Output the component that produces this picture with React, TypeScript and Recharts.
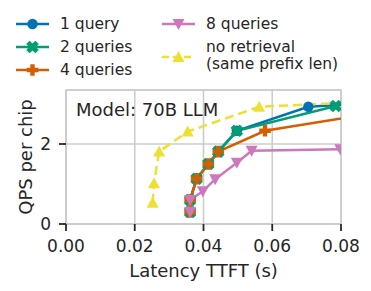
import React from "react";
import { LineChart, Line, XAxis, YAxis, CartesianGrid, ReferenceArea, Label } from "recharts";

// latency TTFT (s) / QPS per chip
const xTicks = [0, 0.02, 0.04, 0.06, 0.08];
const yTicks = [0, 2];

const q1Lat = [0.0361, 0.0361, 0.038, 0.0414, 0.0443, 0.0497, 0.0705, 0.09];
const q1Qps = [0.3, 0.6, 1.13, 1.5, 1.81, 2.33, 2.93, 3.04];
const q2Lat = [0.0361, 0.0361, 0.038, 0.0414, 0.0443, 0.0497, 0.0785];
const q2Qps = [0.3, 0.6, 1.13, 1.5, 1.81, 2.33, 2.95];
const q4Lat = [0.0361, 0.0361, 0.038, 0.0414, 0.0443, 0.0579, 0.09];
const q4Qps = [0.3, 0.6, 1.13, 1.5, 1.81, 2.33, 2.78];
const q8Lat = [0.0361, 0.0361, 0.0398, 0.0434, 0.0497, 0.054, 0.0798];
const q8Qps = [0.3, 0.6, 0.82, 1.12, 1.53, 1.83, 1.87];
const noRetLat = [0.0252, 0.0256, 0.0271, 0.0354, 0.0562, 0.09];
const noRetQps = [0.53, 1.02, 1.81, 2.31, 2.93, 3.07];

const TEXT = "#262626";
const GRID = "#cccccc";
const FONT = "DejaVu Sans, sans-serif";

type Shape = "circle" | "x" | "plus" | "down" | "up";

const series: { name: string; lat: number[]; qps: number[]; color: string; shape: Shape; dash?: string }[] = [
  { name: "1 query", lat: q1Lat, qps: q1Qps, color: "#0173b2", shape: "circle" },
  { name: "2 queries", lat: q2Lat, qps: q2Qps, color: "#029e73", shape: "x" },
  { name: "4 queries", lat: q4Lat, qps: q4Qps, color: "#d55e00", shape: "plus" },
  { name: "8 queries", lat: q8Lat, qps: q8Qps, color: "#cc78bc", shape: "down" },
  { name: "no retrieval", lat: noRetLat, qps: noRetQps, color: "#ece133", shape: "up", dash: "9 5" },
];

const toRows = (lat: number[], qps: number[]) => lat.map((x, i) => ({ x, y: qps[i] }));

function crossPoints(a: number, t: number) {
  return [
    [-t, -a], [t, -a], [t, -t], [a, -t], [a, t], [t, t],
    [t, a], [-t, a], [-t, t], [-a, t], [-a, -t], [-t, -t],
  ].map((p) => p.join(",")).join(" ");
}

function Marker({ shape, cx, cy, color }: { shape: Shape; cx: number; cy: number; color: string }) {
  if (cx == null || cy == null) return null;
  if (shape === "circle") return <circle cx={cx} cy={cy} r={5.2} fill={color} />;
  if (shape === "x")
    return <polygon points={crossPoints(6.5, 2.4)} fill={color} transform={`translate(${cx},${cy}) rotate(45)`} />;
  if (shape === "plus") return <polygon points={crossPoints(5.8, 2.2)} fill={color} transform={`translate(${cx},${cy})`} />;
  if (shape === "down")
    return <polygon points={`${cx - 6},${cy - 5} ${cx + 6},${cy - 5} ${cx},${cy + 6}`} fill={color} />;
  return <polygon points={`${cx - 6},${cy + 5} ${cx + 6},${cy + 5} ${cx},${cy - 6}`} fill={color} />;
}

function LegendItem({ x, y, s }: { x: number; y: number; s: (typeof series)[number] }) {
  return (
    <g>
      <line x1={x} x2={x + 33} y1={y} y2={y} stroke={s.color} strokeWidth={2.5} strokeDasharray={s.dash ? "7 4" : undefined} />
      <Marker shape={s.shape} cx={x + 16.5} cy={y} color={s.color} />
    </g>
  );
}

export default function App() {
  return (
    <div style={{ position: "fixed", left: 0, top: 0, width: 371, height: 291, background: "#fff", fontFamily: FONT }}>
      <LineChart width={371} height={291} margin={{ top: 90, right: 30, bottom: 0, left: 0 }}>
        <CartesianGrid stroke={GRID} strokeWidth={1.6} />
        <XAxis
          type="number"
          dataKey="x"
          domain={[0, 0.08]}
          allowDataOverflow
          ticks={xTicks}
          tickFormatter={(v: number) => v.toFixed(2)}
          height={67}
          axisLine={{ stroke: GRID, strokeWidth: 1.6 }}
          tickLine={{ stroke: TEXT, strokeWidth: 1.8 }}
          tickSize={7}
          tickMargin={9}
          tick={{ fill: TEXT, fontSize: 17, fontFamily: FONT }}
        >
          <Label
            content={() => (
              <text x={203.5} y={270} textAnchor="middle" dominantBaseline="central" fill={TEXT} fontSize={18} fontFamily={FONT}>
                Latency TTFT (s)
              </text>
            )}
          />
        </XAxis>
        <YAxis
          type="number"
          dataKey="y"
          domain={[0, 3.35]}
          allowDataOverflow
          ticks={yTicks}
          width={66}
          axisLine={{ stroke: GRID, strokeWidth: 1.6 }}
          tickLine={{ stroke: TEXT, strokeWidth: 1.8 }}
          tickSize={7}
          tickMargin={8}
          tick={{ fill: TEXT, fontSize: 17, fontFamily: FONT }}
        >
          <Label
            content={() => (
              <text
                x={25}
                y={157}
                transform="rotate(-90 25 157)"
                textAnchor="middle"
                dominantBaseline="central"
                fill={TEXT}
                fontSize={18}
                fontFamily={FONT}
              >
                QPS per chip
              </text>
            )}
          />
        </YAxis>
        <ReferenceArea x1={0} x2={0.08} y1={0} y2={3.35} fill="none" stroke={GRID} strokeWidth={1.6} />
        {series.map((s) => (
          <Line
            key={s.name}
            data={toRows(s.lat, s.qps)}
            dataKey="y"
            stroke={s.color}
            strokeWidth={2.5}
            strokeDasharray={s.dash}
            isAnimationActive={false}
            dot={(p: any) => <Marker key={`${s.name}-${p.index}`} shape={s.shape} cx={p.cx} cy={p.cy} color={s.color} />}
            activeDot={false}
          />
        ))}
      </LineChart>
      <svg width={371} height={291} style={{ position: "absolute", left: 0, top: 0, pointerEvents: "none" }}>
        <text x={76} y={109} dominantBaseline="central" fill={TEXT} fontSize={18} fontFamily={FONT}>
          Model: 70B LLM
        </text>
        <LegendItem x={16} y={24} s={series[0]} />
        <LegendItem x={16} y={47} s={series[1]} />
        <LegendItem x={16} y={70} s={series[2]} />
        <LegendItem x={162} y={24} s={series[3]} />
        <LegendItem x={162} y={57} s={series[4]} />
        <g fill={TEXT} fontSize={15.5} fontFamily={FONT} dominantBaseline="central">
          <text x={60} y={24}>1 query</text>
          <text x={60} y={47}>2 queries</text>
          <text x={60} y={70}>4 queries</text>
          <text x={206} y={24}>8 queries</text>
          <text x={206} y={47}>no retrieval</text>
          <text x={206} y={64}>(same prefix len)</text>
        </g>
      </svg>
    </div>
  );
}
